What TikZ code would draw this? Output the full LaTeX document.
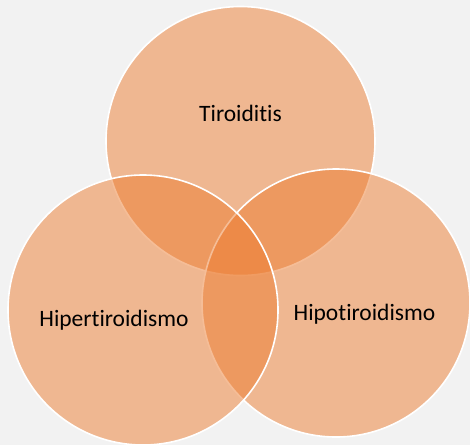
\documentclass[tikz,border=0pt]{standalone}
\usepackage{fontspec}
\setmainfont[Ligatures={NoCommon,NoContextual}]{Carlito}
\definecolor{vennorange}{HTML}{ED7D31}
\definecolor{backgr}{HTML}{F2F2F2}
\begin{document}
\begin{tikzpicture}[x=1pt,y=-1pt,
    vennset/.style={fill=vennorange,fill opacity=0.5,draw=white,line width=1.6pt},
    vennlabel/.style={anchor=base,text=black,font=\fontsize{23.5}{28}\selectfont}]
      \fill[backgr] (0,0) rectangle (470,445);
      \useasboundingbox (0,0) rectangle (470,445);
      \draw[vennset] (240.5,141) circle (134.5pt);
      \draw[vennset] (336,303) circle (134pt);
      \draw[vennset] (143,310) circle (135pt);
      \node[vennlabel] (tiroiditis) at (240.5,121) {Tiroiditis};
      \node[vennlabel] (hiper) at (114,326.5) {Hipertiroidismo};
      \node[vennlabel] (hipo) at (364.5,320) {Hipotiroidismo};
    \end{tikzpicture}
\end{document}
